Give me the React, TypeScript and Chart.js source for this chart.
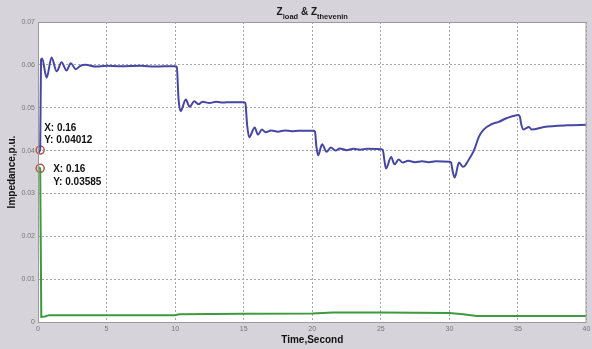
import React, { useEffect, useRef } from 'react';
import { Chart, registerables } from 'chart.js';

Chart.register(...registerables);

const FONT = '"Liberation Sans", Arial, sans-serif';

// Z_load (blue) samples
const zLoadTime = [
  0, 0.16, 0.22, 0.3, 0.63, 0.99, 1.36, 1.72, 2.08, 2.39, 2.75, 3.1, 3.48, 4.2, 5, 6, 7.5, 8.5, 10.0,
  10.12, 10.25, 10.4, 10.78, 11.06, 11.4, 11.7, 12.0, 12.5, 13, 13.5, 14, 15.0,
  15.12, 15.25, 15.4, 15.8, 16.04, 16.33, 16.6, 17, 17.5, 18, 18.5, 19, 20.1,
  20.2, 20.3, 20.43, 20.72, 21.04, 21.35, 21.7, 22, 22.5, 23, 23.5, 24, 25.05,
  25.15, 25.25, 25.38, 25.75, 26.0, 26.3, 26.6, 27, 27.5, 28, 28.5, 29, 30.0,
  30.12, 30.25, 30.39, 30.7, 31.0, 31.4, 31.8, 32.15, 32.5, 33.1, 33.6, 34.2, 35.05,
  35.15, 35.25, 35.4, 35.8, 36.0, 36.9, 38.6, 40,
];
const zLoadValue = [
  0.0395, 0.04012, 0.0612, 0.0615, 0.057, 0.0617, 0.0585, 0.0606, 0.0587, 0.0604, 0.059, 0.0598, 0.06, 0.0596, 0.0598, 0.0597, 0.0598, 0.0596, 0.0597,
  0.0595, 0.052, 0.0492, 0.0519, 0.0502, 0.0515, 0.0508, 0.0514, 0.0511, 0.0514, 0.0512, 0.0513, 0.0513,
  0.0511, 0.046, 0.0431, 0.0454, 0.0437, 0.0449, 0.0443, 0.0447, 0.0444, 0.0447, 0.0445, 0.0446, 0.0446,
  0.0444, 0.041, 0.0389, 0.0415, 0.0397, 0.0407, 0.04, 0.0405, 0.0401, 0.0404, 0.0402, 0.0404, 0.0403,
  0.0401, 0.038, 0.0358, 0.0385, 0.0368, 0.0379, 0.0372, 0.0376, 0.0373, 0.0375, 0.0373, 0.0375, 0.0374,
  0.0372, 0.035, 0.0337, 0.0372, 0.0362, 0.0378, 0.0401, 0.0432, 0.0449, 0.0462, 0.0467, 0.0476, 0.0483,
  0.0478, 0.046, 0.0449, 0.0455, 0.0449, 0.0455, 0.0459, 0.046,
];

// Z_thevenin (green) samples
const zThevTime = [0, 0.16, 0.24, 0.5, 0.8, 10, 10.3, 15, 20, 21.5, 25, 30, 31, 32, 40];
const zThevValue = [0.0362, 0.03585, 0.0012, 0.0013, 0.0016, 0.0016, 0.0018, 0.0019, 0.002, 0.0022, 0.0022, 0.0021, 0.0018, 0.0014, 0.0014];

// Axes
const xTickValues = [0, 5, 10, 15, 20, 25, 30, 35, 40];
const xTickLabels = ['0', '5', '10', '15', '20', '25', '30', '35', '40'];
const yTickValues = [0, 0.01, 0.02, 0.03, 0.04, 0.05, 0.06, 0.07];
const yTickLabels = ['0', '0.01', '0.02', '0.03', '0.04', '0.05', '0.06', '0.07'];

// Data tips
const tipTimes = [0.16, 0.16];
const tipValues = [0.04012, 0.03585];
const tipLines = [
  ['X: 0.16', 'Y: 0.04012'],
  ['X: 0.16', 'Y: 0.03585'],
];

const titleParts = [
  { text: 'Z', sub: false },
  { text: 'load', sub: true },
  { text: ' & ', sub: false },
  { text: 'Z', sub: false },
  { text: 'thevenin', sub: true },
];

const bgPlugin = {
  id: 'bg',
  beforeDraw(chart: any) {
    const { ctx, chartArea: a } = chart;
    ctx.save();
    ctx.fillStyle = '#d6d3da';
    ctx.fillRect(0, 0, chart.width, chart.height);
    ctx.fillStyle = '#ffffff';
    ctx.fillRect(a.left, a.top, a.right - a.left, a.bottom - a.top);
    ctx.restore();
  },
};

const overlayPlugin = {
  id: 'overlay',
  afterDraw(chart: any) {
    const { ctx, chartArea: a, scales } = chart;
    ctx.save();
    // frame
    ctx.strokeStyle = '#9a9a9a';
    ctx.lineWidth = 1;
    ctx.strokeRect(a.left + 0.5, a.top + 0.5, a.right - a.left - 1, a.bottom - a.top);

    // data tip texts
    ctx.fillStyle = '#111111';
    ctx.font = `bold 10px ${FONT}`;
    ctx.textBaseline = 'middle';
    ctx.textAlign = 'left';
    const offsets = [
      [4, -22],
      [13, 1],
    ];
    tipTimes.forEach((t, i) => {
      const px = scales.x.getPixelForValue(t);
      const py = scales.y.getPixelForValue(tipValues[i]);
      tipLines[i].forEach((line, j) => {
        ctx.fillText(line, px + offsets[i][0], py + offsets[i][1] + j * 12.5);
      });
    });

    // title with subscripts
    const mainFont = `bold 10px ${FONT}`;
    const subFont = `bold 7.5px ${FONT}`;
    let total = 0;
    titleParts.forEach((p) => {
      ctx.font = p.sub ? subFont : mainFont;
      total += ctx.measureText(p.text).width;
    });
    let x = (a.left + a.right) / 2 - total / 2;
    ctx.textBaseline = 'alphabetic';
    ctx.fillStyle = '#1a1a1a';
    titleParts.forEach((p) => {
      ctx.font = p.sub ? subFont : mainFont;
      ctx.fillText(p.text, x, p.sub ? 19 : 15);
      x += ctx.measureText(p.text).width;
    });
    ctx.restore();
  },
};

export default function App() {
  const ref = useRef<HTMLCanvasElement | null>(null);

  useEffect(() => {
    document.body.style.margin = '0';
    const canvas = ref.current;
    if (!canvas) return;
    const chart = new Chart(canvas, {
      type: 'line',
      data: {
        datasets: [
          {
            label: 'Z_load',
            data: zLoadTime.map((t, i) => ({ x: t, y: zLoadValue[i] })),
            borderColor: '#4646a6',
            borderWidth: 2,
            pointRadius: 0,
            cubicInterpolationMode: 'monotone',
            fill: false,
          },
          {
            label: 'Z_thevenin',
            data: zThevTime.map((t, i) => ({ x: t, y: zThevValue[i] })),
            borderColor: '#3d9a3d',
            borderWidth: 2,
            pointRadius: 0,
            fill: false,
          },
          {
            label: 'tips',
            type: 'scatter',
            data: tipTimes.map((t, i) => ({ x: t, y: tipValues[i] })),
            pointRadius: 4,
            pointBorderColor: '#b4533c',
            pointBackgroundColor: 'rgba(255,255,255,0.2)',
            pointBorderWidth: 1.5,
            showLine: false,
            clip: false,
          } as any,
        ],
      },
      options: {
        animation: false,
        responsive: false,
        events: [],
        layout: { padding: { top: 22, right: 2, left: 0, bottom: 0 } },
        plugins: {
          legend: { display: false },
          tooltip: { enabled: false },
          title: { display: false },
        },
        scales: {
          x: {
            type: 'linear',
            min: 0,
            max: 40,
            afterBuildTicks: (s: any) => {
              s.ticks = xTickValues.map((v) => ({ value: v }));
            },
            afterFit: (s: any) => {
              s.height = 27;
              s.paddingLeft = 0;
              s.paddingRight = 0;
            },
            ticks: {
              callback: (_v: any, i: number) => xTickLabels[i],
              font: { size: 7, family: FONT },
              color: '#777777',
              padding: 3,
              maxRotation: 0,
              autoSkip: false,
            },
            grid: { color: '#a8a8a8', drawTicks: false, lineWidth: 1 },
            border: { display: false, dash: [2, 2] },
            title: {
              display: true,
              text: 'Time,Second',
              font: { size: 10, weight: 'bold', family: FONT },
              color: '#111111',
              padding: { top: 0, bottom: 3 },
            },
          },
          y: {
            type: 'linear',
            min: 0,
            max: 0.07,
            afterBuildTicks: (s: any) => {
              s.ticks = yTickValues.map((v) => ({ value: v }));
            },
            afterFit: (s: any) => {
              s.width = 38;
              s.paddingTop = 0;
              s.paddingBottom = 0;
            },
            ticks: {
              callback: (_v: any, i: number) => yTickLabels[i],
              font: { size: 7, family: FONT },
              color: '#777777',
              padding: 3,
              autoSkip: false,
            },
            grid: { color: '#a8a8a8', drawTicks: false, lineWidth: 1 },
            border: { display: false, dash: [2, 2] },
            title: {
              display: true,
              text: 'Impedance,p.u.',
              font: { size: 10, weight: 'bold', family: FONT },
              color: '#111111',
              padding: { top: 6, bottom: 0 },
            },
          },
        },
      } as any,
      plugins: [bgPlugin, overlayPlugin],
    });
    return () => chart.destroy();
  }, []);

  return (
    <div style={{ width: 592, height: 349 }}>
      <canvas ref={ref} width={592} height={349} style={{ display: 'block' }} />
    </div>
  );
}
